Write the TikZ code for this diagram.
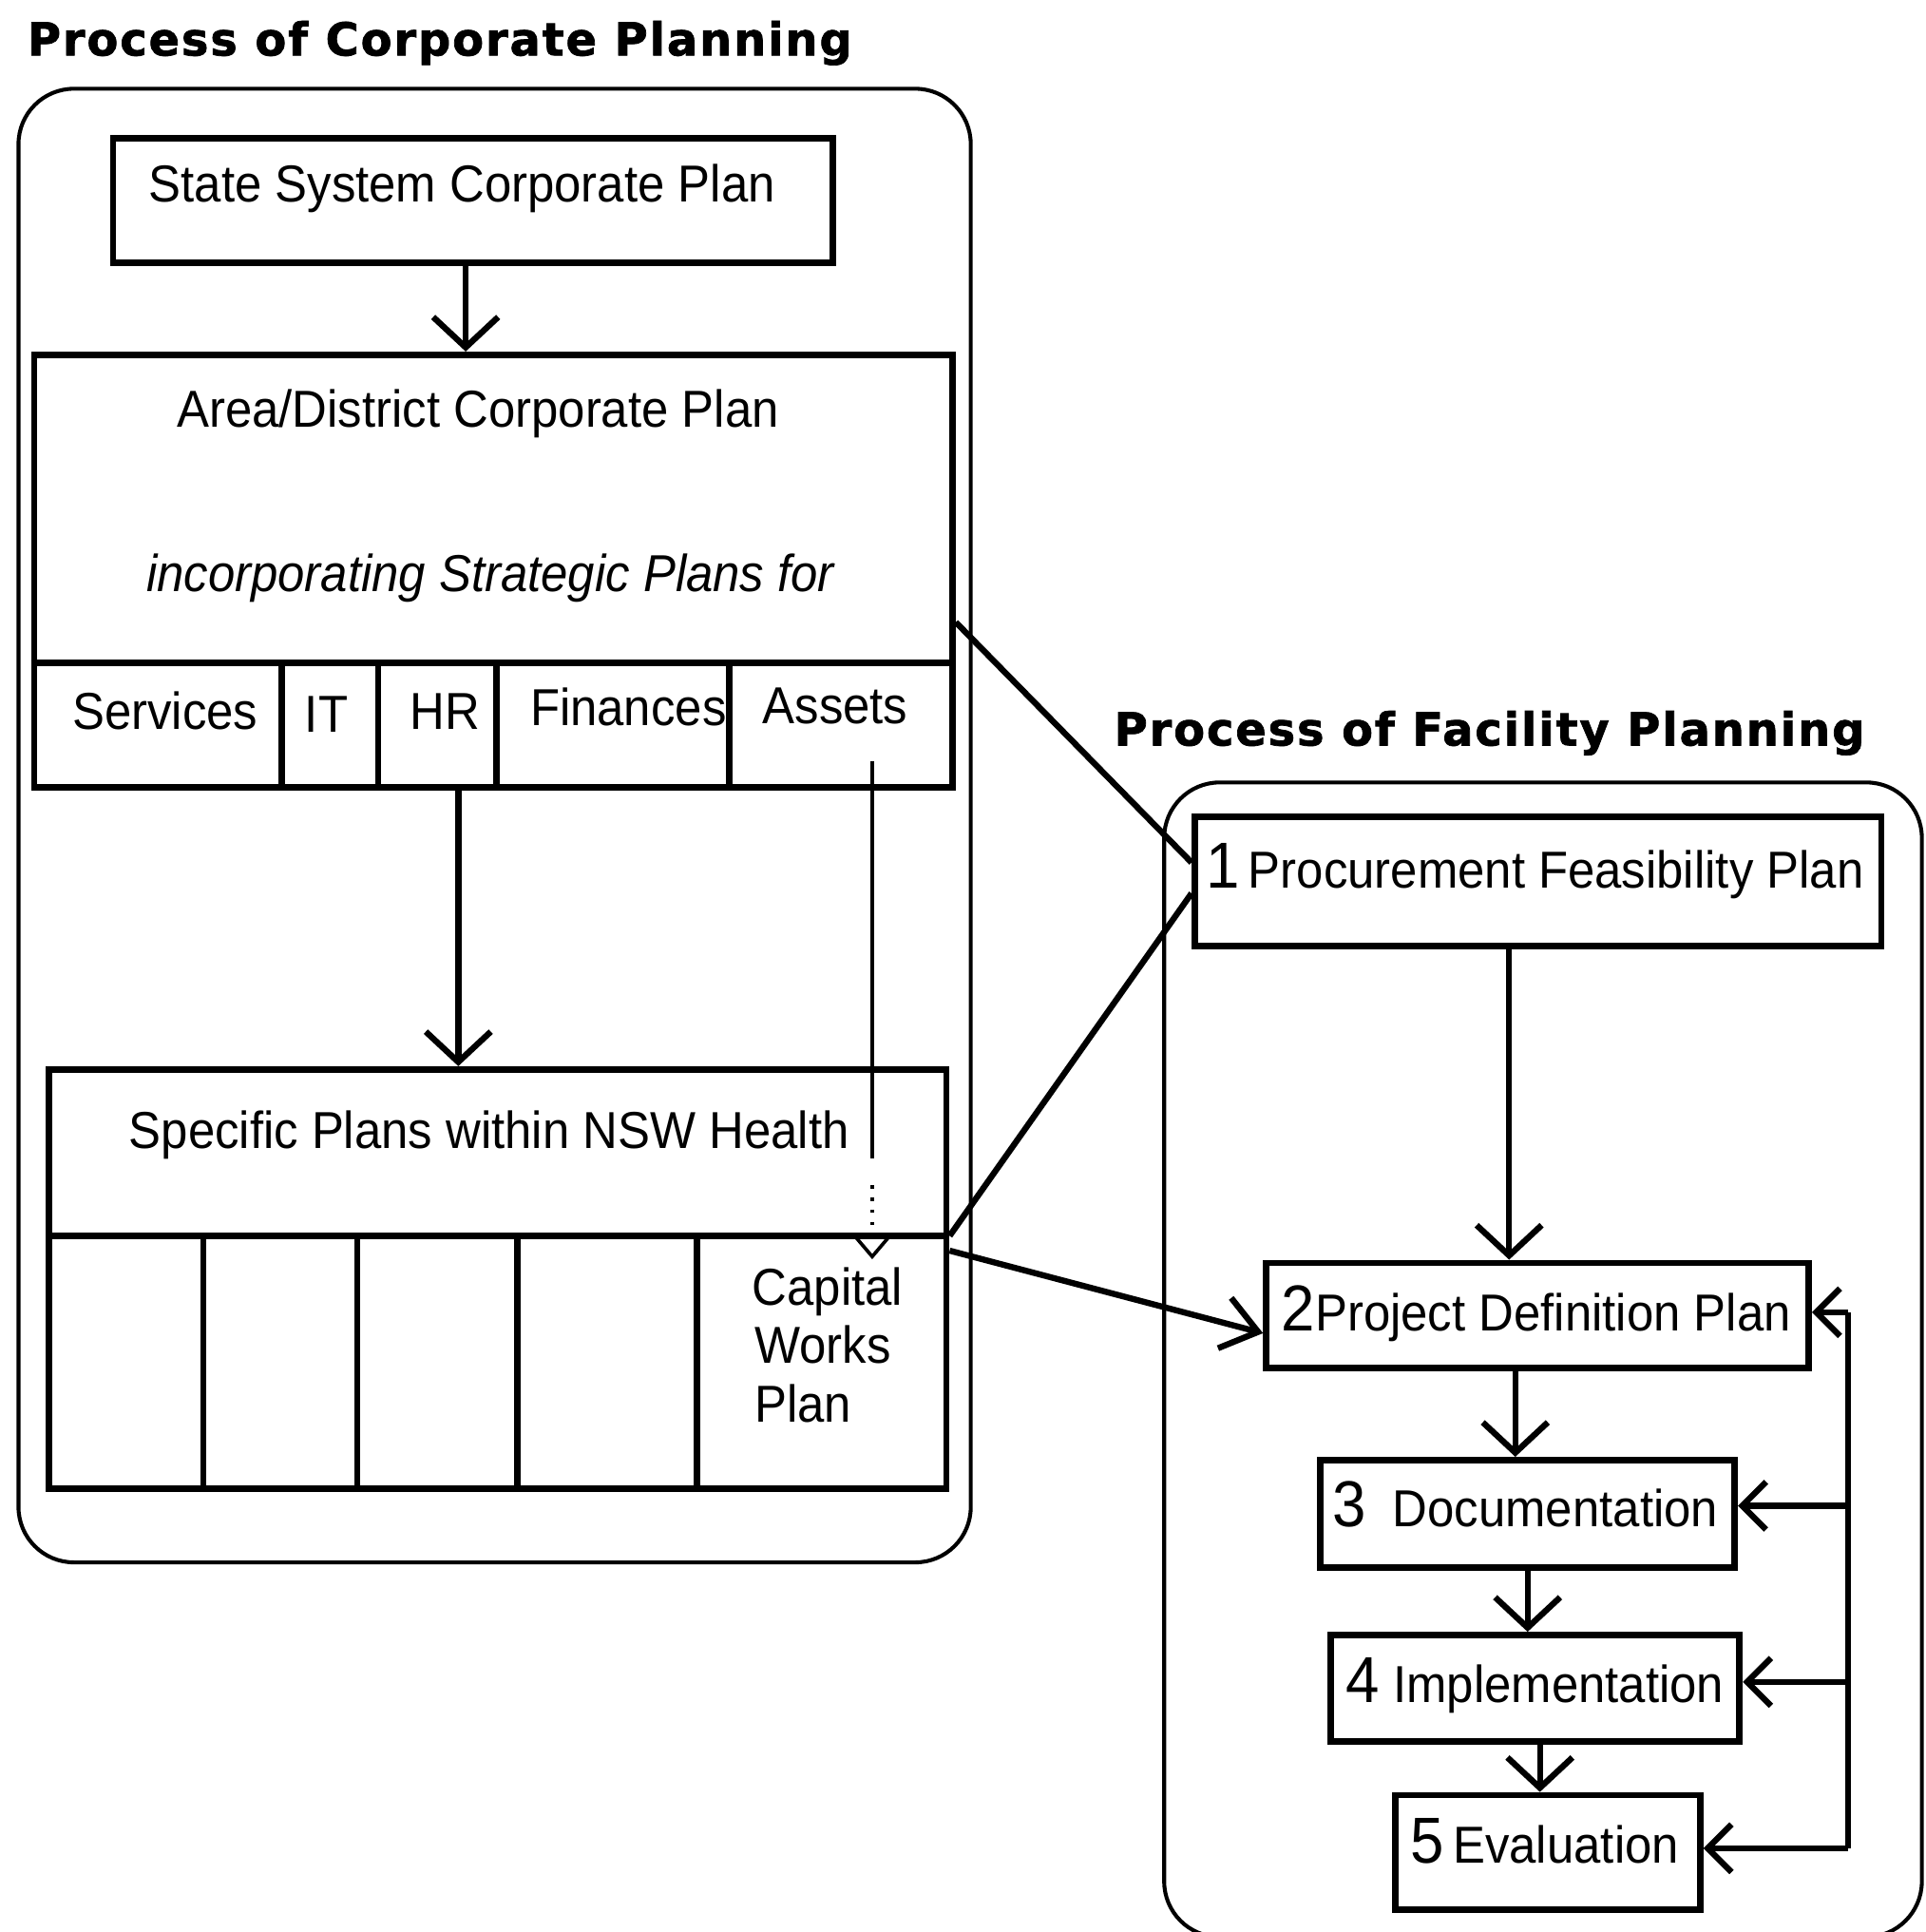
\documentclass[tikz,border=0pt]{standalone}
\usepackage{fontspec}
\setmainfont{Liberation Sans}[FakeStretch=0.93]
\newfontfamily\titlefont{DejaVu Sans}[LetterSpace=4,FakeBold=1.5]
\usetikzlibrary{arrows.meta}
\begin{document}
\begin{tikzpicture}[x=0.01cm,y=-0.01cm,
  box/.style={draw, line width=1.5pt, inner sep=0pt},
  outer/.style={draw, line width=0.9pt, rounded corners=0.45cm},
  txt/.style={inner sep=0pt, anchor=base, font=\fontsize{12}{14}\selectfont},
  ttl/.style={inner sep=0pt, anchor=base, font=\titlefont\bfseries\fontsize{10.5}{12}\selectfont},
  arr/.style={line width=1.4pt, -{Straight Barb[length=7pt,width=15pt,line width=1.4pt]}},
  farr/.style={line width=1.4pt, -{Straight Barb[length=5.5pt,width=11pt,line width=1.4pt]}},
  plain/.style={line width=1.4pt}
]
\useasboundingbox (0,0) rectangle (1563,1568);
% titles
\node[ttl] (t1) at (357,45) {Process of Corporate Planning};
\node[ttl] (t2) at (1209,605) {Process of Facility Planning};
% outer frames
\draw[outer] (15,72) rectangle (788,1268);
\draw[outer] (945,635) rectangle (1560,1572);
% left boxes
\node[box, minimum width=5.84cm, minimum height=1.01cm] (ss) at (384,162.5) {};
\node[txt] (sst) at (375,164) {State System Corporate Plan};
\node[box, minimum width=7.45cm, minimum height=3.51cm] (area) at (400.5,463.5) {};
\node[txt] (areat) at (388,347) {Area/District Corporate Plan};
\node[txt] (areai) at (398,480) {\itshape incorporating Strategic Plans for};
\draw[box] (area.west |- 0,538) coordinate (adl) -- (area.east |- 0,538) coordinate (adr);
\foreach \x in {229,307,403,592} \draw[box] (\x,538) -- (\x,639);
\node[txt] (c1) at (134,592) {Services};
\node[txt] (c2) at (265,594) {IT};
\node[txt] (c3) at (361,592) {HR};
\node[txt] (c4) at (510,589) {Finances};
\node[txt] (c5) at (678,587) {Assets};
\node[box, minimum width=7.28cm, minimum height=3.40cm] (spec) at (404,1038) {};
\node[txt] (spect) at (397,932) {Specific Plans within NSW Health};
\draw[box] (spec.west |- 0,1003) coordinate (sdl) -- (spec.east |- 0,1003) coordinate (sdr);
\foreach \x in {165,290,420,566} \draw[box] (\x,1003) -- (\x,1208);
\node[txt, anchor=base west] (cw1) at (610,1059) {Capital};
\node[txt, anchor=base west] (cw2) at (612,1106) {Works};
\node[txt, anchor=base west] (cw3) at (612,1154) {Plan};
% right boxes
\node[box, minimum width=5.57cm, minimum height=1.05cm] (b1) at (1248.5,715.5) {};
\node[txt] (b1t) at (1246,721) {{\fontsize{15}{15}\selectfont 1}\,Procurement Feasibility Plan};
\node[box, minimum width=4.40cm, minimum height=0.85cm] (b2) at (1248,1067.5) {};
\node[txt] (b2t) at (1247,1080) {{\fontsize{15}{15}\selectfont 2}Project Definition Plan};
\node[box, minimum width=3.36cm, minimum height=0.87cm] (b3) at (1240,1228.5) {};
\node[txt] (b3t) at (1238,1239) {{\fontsize{15}{15}\selectfont 3}\ \ Documentation};
\node[box, minimum width=3.32cm, minimum height=0.86cm] (b4) at (1246,1370) {};
\node[txt] (b4t) at (1246,1382) {{\fontsize{15}{15}\selectfont 4} Implementation};
\node[box, minimum width=2.47cm, minimum height=0.93cm] (b5) at (1256.5,1503.5) {};
\node[txt] (b5t) at (1254,1512) {{\fontsize{15}{15}\selectfont 5}\,Evaluation};
% left connectors
\draw[arr] ([xshift=-0.06cm]ss.south) -- ([xshift=-0.06cm]ss.south |- area.north);
\draw[arr] (area.south -| 372,0) -- (spec.north -| 372,0);
\coordinate (as1) at (708,618);
\coordinate (as2) at (708,940);
\coordinate (as3) at (708,962);
\draw[line width=0.8pt] (as1) -- (as2);
\draw[line width=0.8pt, dotted, -{Triangle[open,length=6pt,width=10pt,line width=0.8pt]}] (as3) -- (708,1022);
% cross connectors
\draw[plain] (area.east |- 0,505) -- (b1.west |- 0,700);
\draw[plain] (sdr) -- (b1.west |- 0,725);
\draw[line width=1.4pt, -{Straight Barb[length=8pt,width=12pt,line width=1.4pt]}] (spec.east |- 0,1015) -- (b2.west |- 0,1082);
% right chain
\draw[arr] (b1.south -| 1225,0) -- (b2.north -| 1225,0);
\draw[arr] (b2.south -| 1230,0) -- (b3.north -| 1230,0);
\draw[arr] (b3.south -| 1240,0) -- (b4.north -| 1240,0);
\draw[arr] (b4.south -| 1250,0) -- (b5.north -| 1250,0);
% feedback
\coordinate (fb2) at (1500,1065);
\coordinate (fb3) at (1500,1222);
\coordinate (fb4) at (1500,1365);
\coordinate (fb5) at (1500,1500);
\draw[plain] (fb5) -- (fb2);
\draw[farr] (fb2) -- (b2.east |- fb2);
\draw[farr] (fb3) -- (b3.east |- fb3);
\draw[farr] (fb4) -- (b4.east |- fb4);
\draw[farr] (fb5) -- (b5.east |- fb5);
\end{tikzpicture}
\end{document}
